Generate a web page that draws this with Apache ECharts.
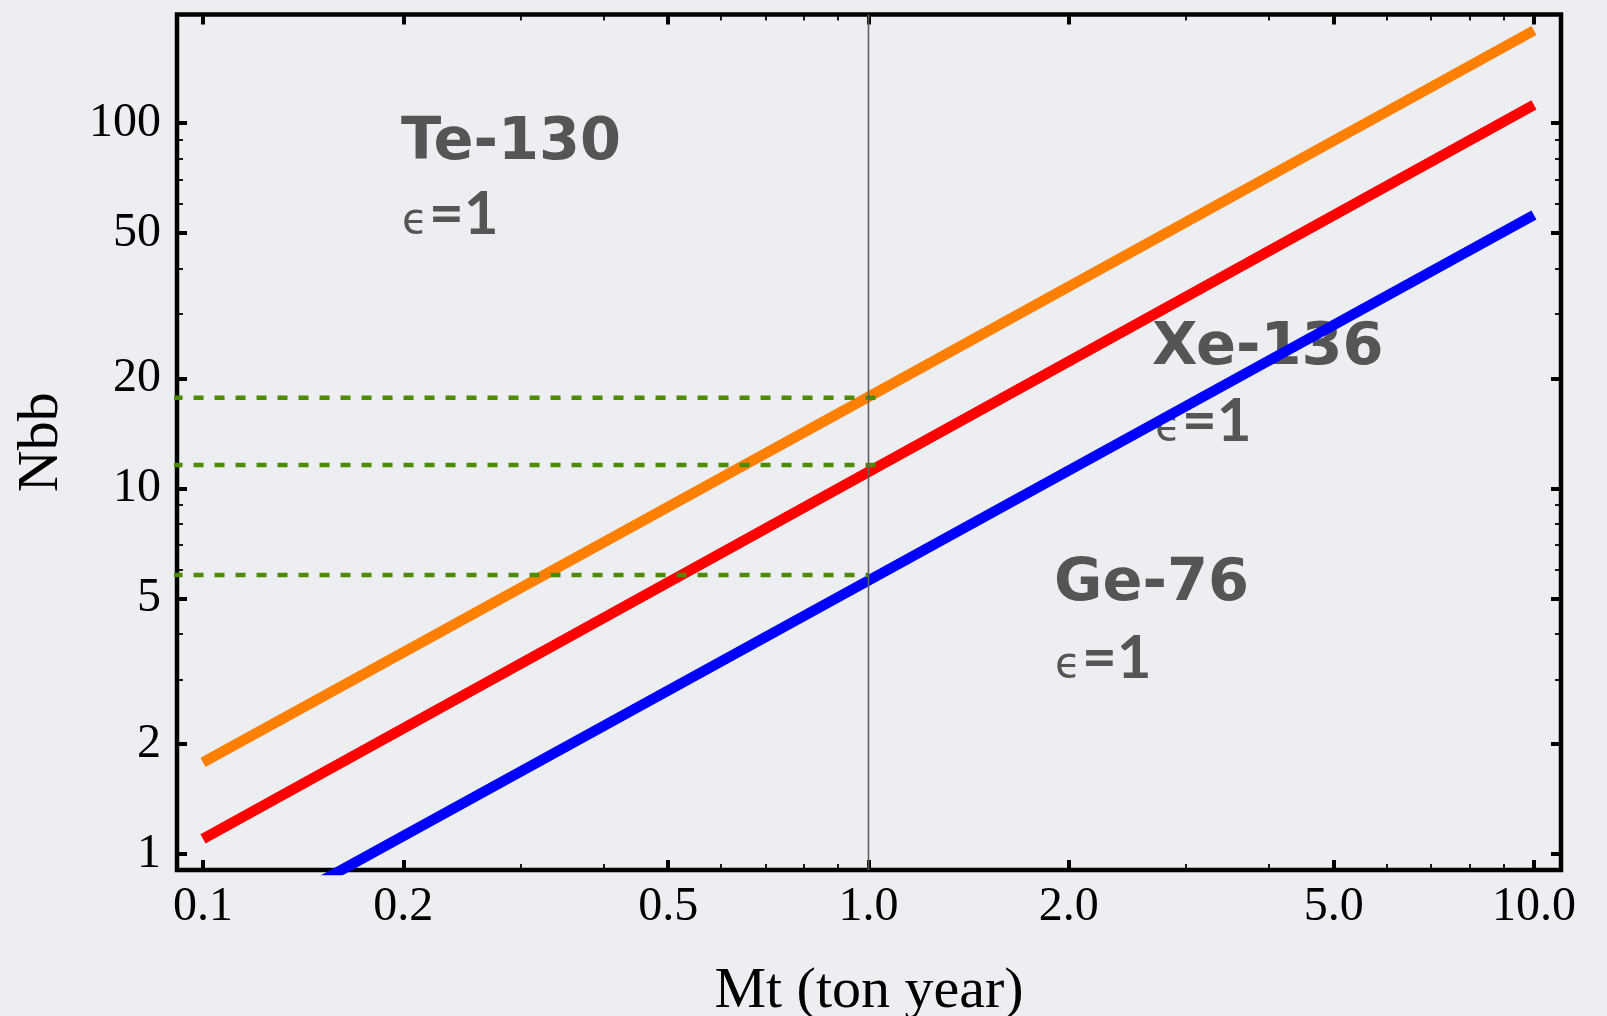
<!DOCTYPE html>
<html>
<head>
<meta charset="utf-8">
<title>Nbb vs Mt</title>
<script src="https://cdn.jsdelivr.net/npm/echarts@6.0.0/dist/echarts.min.js"></script>
<style>
  html, body { margin: 0; padding: 0; background: #edeef2; }
  #my_chart { width: 1607px; height: 1016px; }
</style>
</head>
<body>
<div id="my_chart"></div>
<script>
  // exposure Mt (ton year) where each line is read
  var mtPoints = [0.1, 1.0, 10.0];
  // Nbb at those exposures
  var te130 = [1.78, 17.8, 179];
  var xe136 = [1.10, 11.1, 112];
  var ge76 = [0.56, 5.6, 56];

  // green dashed guides: level and where each stops on the Mt axis
  var guideLevels = [17.7, 11.6, 5.8];
  var guideEnds = [1.04, 1.065, 1.0];
  var guideStart = 0.09;
  var refMt = 1.0;

  // ticks
  var xMajor = [0.1, 0.2, 0.5, 1, 2, 5, 10];
  var xMajorLabels = ['0.1', '0.2', '0.5', '1.0', '2.0', '5.0', '10.0'];
  var xMinor = [0.3, 0.4, 0.6, 0.7, 0.8, 0.9, 3, 4, 6, 7, 8, 9];
  var yMajor = [1, 2, 5, 10, 20, 50, 100];
  var yMajorLabels = ['1', '2', '5', '10', '20', '50', '100'];
  var yMinor = [3, 4, 6, 7, 8, 9, 30, 40, 60, 70, 80, 90];

  var xRange = [0.0914, 10.98];
  var yRange = [0.904, 198];

  var lg = function (v) { return Math.log10(v); };

  function logAxis(position, range, ticks, major, labels) {
    var axis = {
      type: 'value',
      position: position,
      min: lg(range[0]),
      max: lg(range[1]),
      axisLine: { show: false, onZero: false },
      splitLine: { show: false },
      axisTick: {
        show: true,
        inside: true,
        length: major ? 10 : 6,
        lineStyle: { color: '#000', width: major ? 4 : 1.8 },
        customValues: ticks.map(lg)
      },
      axisLabel: { show: false }
    };
    if (labels) {
      axis.axisLabel = {
        show: true,
        customValues: ticks.map(lg),
        formatter: function (v) {
          for (var i = 0; i < ticks.length; i++) {
            if (Math.abs(lg(ticks[i]) - v) < 1e-6) return labels[i];
          }
          return '';
        },
        fontFamily: 'Liberation Serif',
        fontSize: 48,
        color: '#000',
        margin: position === 'bottom' ? 13 : 16
      };
    }
    return axis;
  }

  var xAxes = [
    logAxis('bottom', xRange, xMajor, true, xMajorLabels),
    logAxis('bottom', xRange, xMinor, false),
    logAxis('top', xRange, xMajor, true),
    logAxis('top', xRange, xMinor, false)
  ];
  xAxes[0].name = 'Mt (ton year)';
  xAxes[0].nameLocation = 'middle';
  xAxes[0].nameGap = 93;
  xAxes[0].nameTextStyle = { fontFamily: 'Liberation Serif', fontSize: 58, color: '#000' };

  var yAxes = [
    logAxis('left', yRange, yMajor, true, yMajorLabels),
    logAxis('left', yRange, yMinor, false),
    logAxis('right', yRange, yMajor, true),
    logAxis('right', yRange, yMinor, false)
  ];
  yAxes[0].name = 'Nbb';
  yAxes[0].nameLocation = 'middle';
  yAxes[0].nameGap = 106;
  yAxes[0].nameTextStyle = { fontFamily: 'Liberation Serif', fontSize: 58, color: '#000' };

  function lineSeries(name, ys, color) {
    return {
      name: name,
      type: 'line',
      data: mtPoints.map(function (m, i) { return [lg(m), lg(ys[i])]; }),
      symbol: 'none',
      lineStyle: { color: color, width: 10.5 },
      itemStyle: { color: color },
      z: 2
    };
  }

  var series = [
    lineSeries('Te-130', te130, '#ff8000'),
    lineSeries('Xe-136', xe136, '#ff0000'),
    lineSeries('Ge-76', ge76, '#0000ff')
  ];

  guideLevels.forEach(function (lv, i) {
    series.push({
      type: 'line',
      data: [[lg(guideStart), lg(lv)], [lg(guideEnds[i]), lg(lv)]],
      symbol: 'none',
      lineStyle: { color: '#4d8c00', width: 4.5, type: [10, 11] },
      z: 3
    });
  });

  // thin reference line at 1 ton year
  series.push({
    type: 'line',
    data: [[lg(refMt), lg(yRange[0])], [lg(refMt), lg(yRange[1])]],
    symbol: 'none',
    lineStyle: { color: '#5e5e5e', width: 1.6 },
    z: 4
  });

  var nameFont = { fontFamily: 'DejaVu Sans', fontWeight: 'bold', fontSize: 59, fill: '#555555' };
  function label(x, y, text) {
    return { type: 'text', x: x, y: y, style: Object.assign({ text: text, verticalAlign: 'middle' }, nameFont) };
  }
  function eps(x, y) {
    return [
      { type: 'text', x: x, y: y + 7, style: { text: 'ϵ', fontFamily: 'DejaVu Sans', fontSize: 42, fill: '#555555', verticalAlign: 'middle' } },
      { type: 'text', x: x + 27, y: y, style: { text: '=1', fontFamily: 'Lato', fontWeight: 'bold', fontSize: 60, fill: '#555555', verticalAlign: 'middle' } }
    ];
  }

  var graphics = [
    label(401, 144, 'Te-130'),
    label(1152, 349, 'Xe-136'),
    label(1054, 585, 'Ge-76')
  ].concat(eps(402, 215), eps(1155, 422), eps(1055, 659));

  var my_chart = echarts.init(document.getElementById('my_chart'));
  my_chart.setOption({
    backgroundColor: '#edeef2',
    animation: false,
    grid: {
      left: 177, right: 46, top: 14.5, bottom: 146,
      outerBoundsMode: 'none',
      containLabel: false,
      show: true, borderColor: '#000', borderWidth: 4.5, backgroundColor: 'transparent'
    },
    xAxis: xAxes,
    yAxis: yAxes,
    series: series,
    graphic: graphics
  });
</script>
</body>
</html>
